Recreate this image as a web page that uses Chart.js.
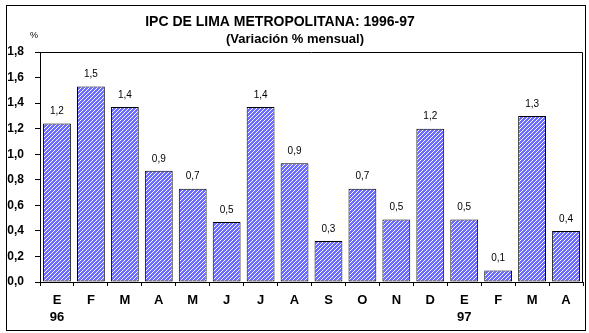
<!DOCTYPE html>
<html>
<head>
<meta charset="utf-8">
<title>IPC de Lima Metropolitana 1996-97</title>
<script src="https://cdn.jsdelivr.net/npm/chart.js@4.4.1/dist/chart.umd.min.js"></script>
<style>
    html, body { margin: 0; padding: 0; background: #fff; }
    canvas { display: block; }
</style>
</head>
<body>
<canvas id="ipcChart" width="589" height="333"></canvas>
<script>
const months = [['E', '96'], 'F', 'M', 'A', 'M', 'J', 'J', 'A', 'S', 'O', 'N', 'D', ['E', '97'], 'F', 'M', 'A'];
const monthlyChange = [1.24, 1.53, 1.37, 0.87, 0.73, 0.47, 1.37, 0.93, 0.32, 0.73, 0.49, 1.20, 0.49, 0.09, 1.30, 0.40];
const yTicks = [0, 0.2, 0.4, 0.6, 0.8, 1.0, 1.2, 1.4, 1.6, 1.8];

const FONT = 'Arial, "Liberation Sans", sans-serif';

function fmt(v) {
    return v.toFixed(1).replace('.', ',');
}

// diagonal blue/white hatch used as bar fill
function hatchPattern() {
    const c = document.createElement('canvas');
    c.width = 4;
    c.height = 4;
    const g = c.getContext('2d');
    g.fillStyle = '#6b6bff';
    g.fillRect(0, 0, 4, 4);
    g.fillStyle = '#ffffff';
    for (let x = 0; x < 4; x++) {
        for (let y = 0; y < 4; y++) {
            if ((x + y) % 4 === 0) g.fillRect(x, y, 1, 1);
        }
    }
    return g.createPattern(c, 'repeat');
}

const decorations = {
    id: 'decorations',
    afterDraw(chart) {
        const ctx = chart.ctx;
        const area = chart.chartArea;
        ctx.save();
        ctx.strokeStyle = '#000';
        ctx.lineWidth = 1;
        // outer frame
        ctx.strokeRect(6.5, 5.5, 579, 325);
        // plot box (top and right sides)
        ctx.beginPath();
        ctx.moveTo(Math.round(area.left) + 0.5, Math.round(area.top) + 0.5);
        ctx.lineTo(Math.round(area.right) - 0.5, Math.round(area.top) + 0.5);
        ctx.lineTo(Math.round(area.right) - 0.5, Math.round(area.bottom));
        ctx.stroke();

        ctx.fillStyle = '#000';
        ctx.textAlign = 'center';
        ctx.textBaseline = 'middle';
        ctx.font = 'bold 14px ' + FONT;
        ctx.fillText('IPC DE LIMA METROPOLITANA: 1996-97', 280, 22);
        ctx.font = 'bold 13px ' + FONT;
        ctx.fillText('(Variación % mensual)', 295, 39);
        ctx.font = '9px ' + FONT;
        ctx.fillText('%', 34, 36);
        ctx.restore();
    },
    afterDatasetsDraw(chart) {
        const ctx = chart.ctx;
        const meta = chart.getDatasetMeta(0);
        ctx.save();
        ctx.fillStyle = '#000';
        ctx.font = '10px ' + FONT;
        ctx.textAlign = 'center';
        ctx.textBaseline = 'middle';
        meta.data.forEach((bar, i) => {
            ctx.fillText(fmt(monthlyChange[i]), bar.x, bar.y - 12);
        });
        ctx.restore();
    }
};

new Chart(document.getElementById('ipcChart'), {
    type: 'bar',
    data: {
        labels: months,
        datasets: [{
            data: monthlyChange,
            backgroundColor: hatchPattern(),
            borderColor: '#000',
            borderWidth: 1,
            borderSkipped: false,
            barPercentage: 0.82,
            categoryPercentage: 1
        }]
    },
    options: {
        responsive: false,
        animation: false,
        layout: { padding: { left: 0, right: 6, top: 52, bottom: 0 } },
        plugins: {
            legend: { display: false },
            tooltip: { enabled: false },
            title: { display: false }
        },
        scales: {
            x: {
                offset: true,
                grid: {
                    display: true,
                    offset: true,
                    drawOnChartArea: false,
                    drawTicks: true,
                    tickLength: 4,
                    color: '#000'
                },
                border: { display: true, color: '#000', width: 1 },
                ticks: {
                    color: '#000',
                    font: { family: FONT, size: 13, weight: 'bold', lineHeight: 1.3 },
                    padding: 6,
                    maxRotation: 0,
                    autoSkip: false
                },
                afterFit(scale) { scale.height = 51; }
            },
            y: {
                min: 0,
                max: 1.8,
                afterBuildTicks(scale) {
                    scale.ticks = yTicks.map(v => ({ value: v }));
                },
                grid: {
                    display: true,
                    drawOnChartArea: false,
                    drawTicks: true,
                    tickLength: 5,
                    color: '#000'
                },
                border: { display: true, color: '#000', width: 1 },
                ticks: {
                    color: '#000',
                    font: { family: FONT, size: 12, weight: 'bold' },
                    padding: 11,
                    callback: v => fmt(v)
                },
                afterFit(scale) { scale.width = 40; }
            }
        }
    },
    plugins: [decorations]
});
</script>
</body>
</html>
